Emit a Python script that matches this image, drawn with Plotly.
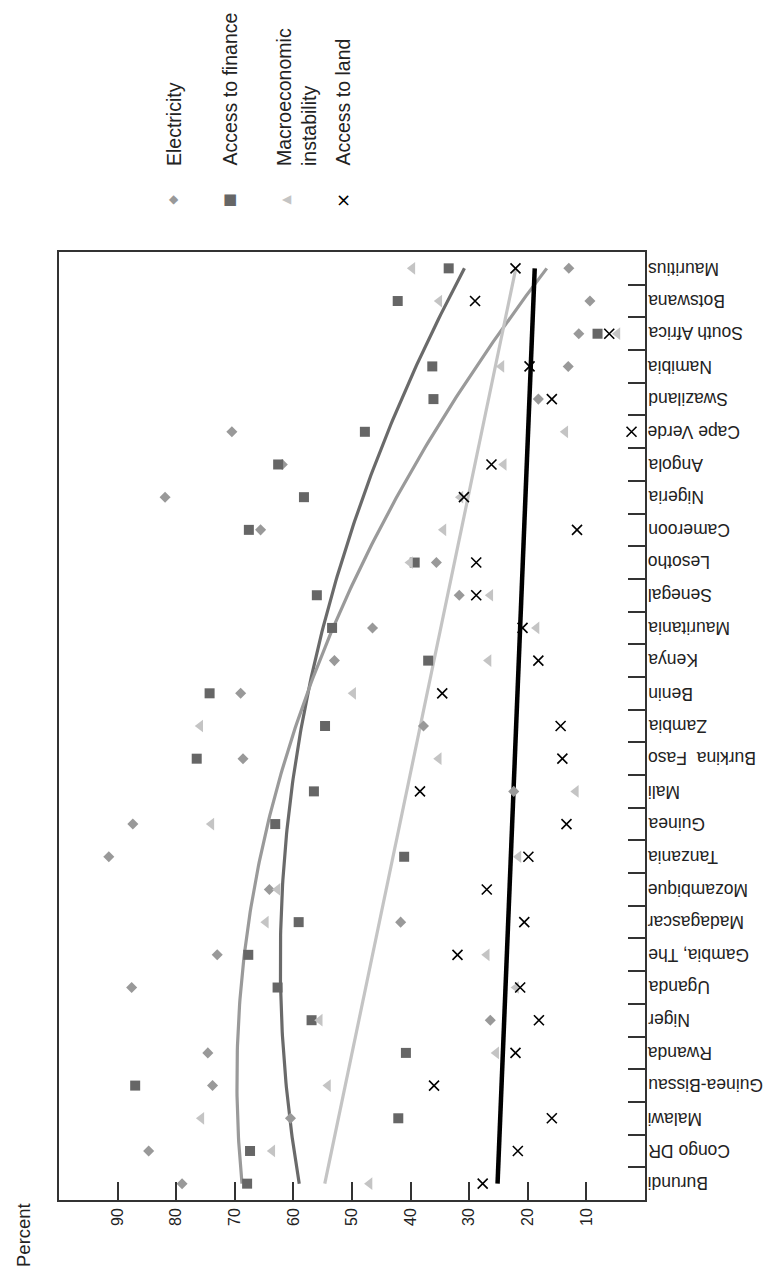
import numpy as np
import plotly.graph_objects as go

countries = ["Burundi", "Congo DR", "Malawi", "Guinea-Bissau", "Rwanda", "Niger", "Uganda",
             "Gambia, The", "Madagascar", "Mozambique", "Tanzania", "Guinea", "Mali",
             "Burkina  Faso", "Zambia", "Benin", "Kenya", "Mauritania", "Senegal", "Lesotho",
             "Cameroon", "Nigeria", "Angola", "Cape Verde", "Swaziland", "Namibia",
             "South Africa", "Botswana", "Mauritius"]

electricity = [79.0, 84.7, 60.5, 73.8, 74.6, 26.4, 87.6, 73.0, 41.7, 64.1, 91.5, 87.4, 22.4,
               68.6, 37.8, 69.0, 53.0, 46.5, 31.7, 35.6, 65.6, 81.9, 61.9, 70.5, 18.2, 13.1,
               11.3, 9.4, 13.0]
finance = [67.9, 67.4, 42.1, 87.0, 40.8, 56.9, 62.7, 67.7, 59.1, None, 41.1, 63.1, 56.5,
           76.5, 54.6, 74.3, 37.0, 53.4, 56.0, 39.3, 67.6, 58.2, 62.6, 47.8, 36.1, 36.3,
           8.1, 42.2, 33.5]
macro = [47.0, 63.6, 75.7, 54.1, 25.4, 55.5, 22.0, 27.0, 64.7, 62.7, 21.6, 74.0, 11.8,
         35.2, 75.9, 49.8, 26.7, 18.5, 26.4, 40.1, 34.4, 31.5, 24.1, 13.6, None, 24.5,
         4.7, 35.1, 39.7]
land = [27.7, 21.7, 15.9, 36.0, 22.1, 18.1, 21.3, 32.0, 20.6, 27.0, 19.9, 13.4, 38.4,
        14.1, 14.4, 34.6, 18.2, 20.9, 28.8, 28.8, 11.6, 30.9, 26.2, 2.3, 15.9, 19.7,
        6.1, 29.0, 22.1]

series_names = ["Electricity", "Access to finance", "Macroeconomic<br>instability", "Access to land"]
percent_ticks = [10, 20, 30, 40, 50, 60, 70, 80, 90]

FONT = "Liberation Sans, Arial, sans-serif"
pos = np.arange(len(countries))

# figure / plot-area geometry (pixels)
W, H = 775, 1275
ML, MR, MT, MB = 51, 138, 244, 83
PW, PH = W - ML - MR, H - MT - MB


def px(xp):
    return (xp - ML) / PW


def py(yp):
    return (H - MB - yp) / PH


def trend(vals, deg):
    v = np.array([np.nan if x is None else x for x in vals], dtype=float)
    m = ~np.isnan(v)
    coef = np.polyfit(pos[m], v[m], deg)
    t = np.linspace(0, len(countries) - 1, 200)
    return t, np.polyval(coef, t)


fig = go.Figure()

# trend lines
for vals, deg, col, w in [(finance, 2, "#6a6a6a", 3.2), (electricity, 2, "#9a9a9a", 3.2),
                          (macro, 1, "#c4c4c4", 3.2), (land, 1, "#000000", 4.5)]:
    t, yv = trend(vals, deg)
    fig.add_trace(go.Scatter(x=yv, y=t, mode="lines", line=dict(color=col, width=w),
                             showlegend=False, hoverinfo="skip"))

# markers
fig.add_trace(go.Scatter(x=electricity, y=pos, mode="markers", name="Electricity",
                         marker=dict(symbol="diamond", size=8.5, color="#999999")))
fig.add_trace(go.Scatter(x=finance, y=pos, mode="markers", name="Access to finance",
                         marker=dict(symbol="square", size=10, color="#666666")))
fig.add_trace(go.Scatter(x=macro, y=pos, mode="markers", name="Macroeconomic instability",
                         marker=dict(symbol="triangle-left", size=11, color="#c4c4c4")))
fig.add_trace(go.Scatter(x=land, y=pos, mode="markers", name="Access to land",
                         marker=dict(symbol="x-thin", size=10, color="#000000",
                                     line=dict(color="#000000", width=1.6))))

annotations = []
for i, c in enumerate(countries):
    annotations.append(dict(x=px(638), xref="paper", y=i, yref="y", text=c, showarrow=False,
                            textangle=180, xanchor="left", yanchor="middle",
                            font=dict(family=FONT, size=17.5, color="#222222")))

annotations.append(dict(x=px(15), xref="paper", y=py(1227), yref="paper",
                        text="Percent", showarrow=False, textangle=-90,
                        xanchor="center", yanchor="middle",
                        font=dict(family=FONT, size=18.5, color="#222222")))

# legend (rotated)
leg_x = [166, 222, 289, 335]
leg_mx = [166, 222, 279, 335]
leg_sym = ["◆", "■", "◀", "×"]
leg_col = ["#999999", "#666666", "#c4c4c4", "#000000"]
leg_size = [12, 15, 12, 18]
for name, lx, mx, s, col, sz in zip(series_names, leg_x, leg_mx, leg_sym, leg_col, leg_size):
    annotations.append(dict(x=px(lx), xref="paper", y=py(160), yref="paper",
                            text=name, showarrow=False, textangle=-90, align="left",
                            xanchor="center", yanchor="bottom",
                            font=dict(family=FONT, size=19.5, color="#222222")))
    annotations.append(dict(x=px(mx), xref="paper", y=py(191), yref="paper",
                            text=s, showarrow=False, xanchor="center", yanchor="middle",
                            font=dict(family="DejaVu Sans", size=sz, color=col)))

fig.update_layout(
    width=W, height=H,
    margin=dict(l=ML, r=MR, t=MT, b=MB),
    paper_bgcolor="white", plot_bgcolor="white",
    showlegend=False,
    font=dict(family=FONT, size=16, color="#222222"),
    xaxis=dict(range=[100, 0], tickvals=percent_ticks, ticks="inside", ticklen=18,
               tickwidth=1.5, tickcolor="#333333", tickangle=-90,
               showline=True, linecolor="#333333", linewidth=1.5, mirror=True,
               showgrid=False, zeroline=False,
               tickfont=dict(family=FONT, size=16, color="#222222")),
    yaxis=dict(range=[-0.5, len(countries) - 0.5], side="right",
               tickvals=[i + 0.5 for i in range(len(countries) - 1)],
               showticklabels=False, ticks="inside", ticklen=17, tickwidth=1.5,
               tickcolor="#333333",
               showline=True, linecolor="#333333", linewidth=1.5, mirror=True,
               showgrid=False, zeroline=False),
    annotations=annotations,
)

fig.write_html("out.html")
